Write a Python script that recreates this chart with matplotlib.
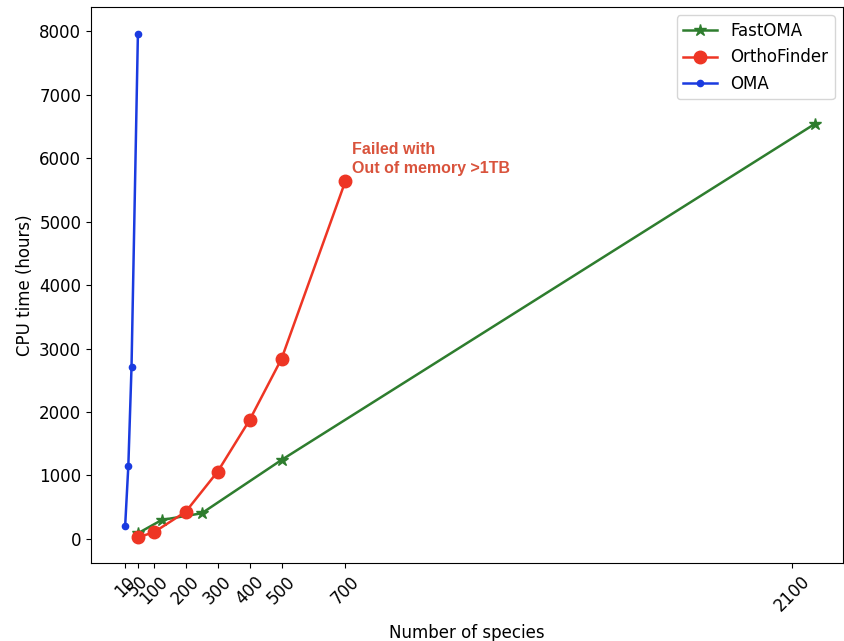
#!/usr/bin/env python3

import matplotlib
matplotlib.use('Agg')
import matplotlib.pyplot as plt

# x ticks shown on the species axis
xtick_vals = [10, 50, 100, 200, 300, 400, 500, 700, 2100]

# FastOMA
fastoma_x = [50, 125, 250, 500, 2170]
fastoma_y = [90, 300, 405, 1245, 6535]

# OrthoFinder
ortho_x = [50, 100, 200, 300, 400, 500, 700]
ortho_y = [27, 105, 430, 1062, 1874, 2838, 5635]

# OMA
oma_x = [10, 20, 30, 50]
oma_y = [200, 1150, 2710, 7955]

note_text = 'Failed with\nOut of memory >1TB'


def main():
    plt.rcParams['font.size'] = 12

    fig = plt.figure(figsize=(8.44, 6.41), dpi=100)
    ax = fig.add_axes([0.1078, 0.1217, 0.891, 0.8673])

    ax.plot(fastoma_x, fastoma_y, color='#2e7d2e', marker='*', markersize=9,
            linewidth=1.8, label='FastOMA')
    ax.plot(ortho_x, ortho_y, color='#ee3524', marker='o', markersize=9,
            linewidth=1.8, label='OrthoFinder')
    ax.plot(oma_x, oma_y, color='#1a3be0', marker='.', markersize=9,
            linewidth=1.8, label='OMA')

    # annotate where OrthoFinder stopped
    ax.annotate(note_text, xy=(ortho_x[-1], ortho_y[-1]), xytext=(5, 4),
                textcoords='offset points', color='#d9533c', fontweight='bold',
                fontsize=11.5, family='Liberation Sans', va='bottom', ha='left',
                linespacing=1.3)

    ax.set_xticks(xtick_vals)
    ax.set_xticklabels([str(v) for v in xtick_vals], rotation=45)
    ax.set_xlim(-97, 2259)
    ax.set_ylim(-378, 8378)

    ax.set_xlabel('Number of species', labelpad=6)
    ax.set_ylabel('CPU time (hours)')
    ax.legend(loc='upper right')

    fig.savefig('out.png', dpi=100)


if __name__ == '__main__':
    main()
